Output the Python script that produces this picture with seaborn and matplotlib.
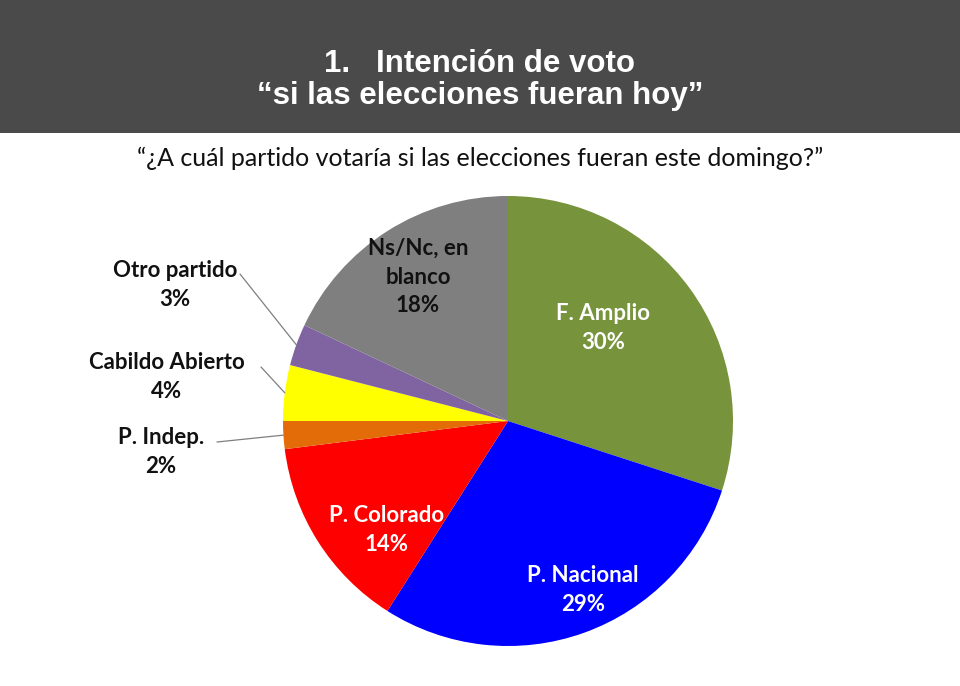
import matplotlib
matplotlib.use("Agg")
import matplotlib.pyplot as plt
import seaborn as sns
import numpy as np

# ---- data ----
categories = ["F. Amplio", "P. Nacional", "P. Colorado", "P. Indep.",
              "Cabildo Abierto", "Otro partido", "Ns/Nc, en\nblanco"]
values = [30, 29, 14, 2, 4, 3, 18]
colors = ["#77933C", "#0000FF", "#FF0000", "#E36C09", "#FFFF00", "#8064A2", "#7F7F7F"]

title_lines = "1.   Intención de voto\n\u201csi las elecciones fueran hoy\u201d"
subtitle = "\u201c¿A cuál partido votaría si las elecciones fueran este domingo?\u201d"

sns.set_theme(style="white")
plt.rcParams['font.family'] = ['Lato', 'DejaVu Sans']

W, H = 960, 686
fig = plt.figure(figsize=(W / 100, H / 100), dpi=100)
fig.patch.set_facecolor("white")

# header band
hdr = fig.add_axes([0, 1 - 133 / H, 1, 133 / H])
hdr.set_facecolor("#4A4A4A")
hdr.set_xticks([]); hdr.set_yticks([])
for s in hdr.spines.values():
    s.set_visible(False)
fig.text(0.5, 1 - 80 / H, title_lines, ha="center", va="center", color="white",
         fontsize=22.5, fontweight="bold", family=["Liberation Sans", "DejaVu Sans"],
         linespacing=1.12)
fig.text(0.5, 1 - 158 / H, subtitle, ha="center", va="center", color="#111111",
         fontsize=18, family=["Lato", "DejaVu Sans"])

# pie axes: centre (508,421) px, radius 225 px
cx, cy, R = 508, 421, 225
ax = fig.add_axes([(cx - R) / W, (H - cy - R) / H, 2 * R / W, 2 * R / H])
ax.set_xlim(-1, 1); ax.set_ylim(-1, 1)
ax.set_aspect("equal")
ax.axis("off")
wedges, _ = ax.pie(values, colors=colors, startangle=90, counterclock=False,
                   radius=1, center=(0, 0), frame=False,
                   wedgeprops=dict(linewidth=0, edgecolor="none"))
ax.set_xlim(-1, 1); ax.set_ylim(-1, 1)

def d(px, py):
    return (px - cx) / R, (cy - py) / R

lab_font = dict(fontsize=16, fontweight="bold", ha="center", va="center",
                linespacing=1.45)

# inner labels (pixel positions of text centres)
inner = {0: ((603, 328), "white"), 1: ((583, 590), "white"),
         2: ((387, 530), "white"), 6: ((418, 277), "#111111")}
for i, ((px, py), col) in inner.items():
    x, y = d(px, py)
    ax.text(x, y, f"{categories[i]}\n{values[i]}%", color=col, clip_on=False, **lab_font)

# outer labels with leader lines
outer = {5: ((175, 285), (240, 274)), 4: ((167, 377), (261, 367)),
         3: ((161, 452), (217, 442))}
for i, ((px, py), (lx, ly)) in outer.items():
    x, y = d(px, py)
    ax.text(x, y, f"{categories[i]}\n{values[i]}%", color="#111111", clip_on=False, **lab_font)
    w = wedges[i]
    mid = np.deg2rad((w.theta1 + w.theta2) / 2)
    ex, ey = np.cos(mid), np.sin(mid)
    sx, sy = d(lx, ly)
    ax.plot([sx, ex], [sy, ey], color="#7F7F7F", lw=0.9, clip_on=False)

fig.savefig("out.png", dpi=100)
